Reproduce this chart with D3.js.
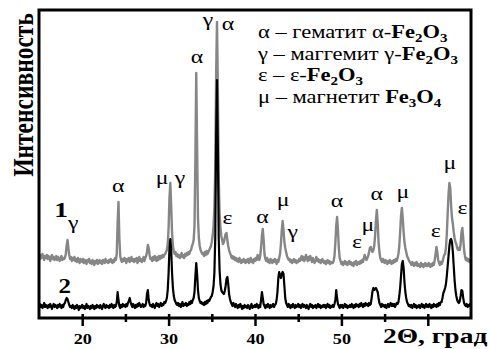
<!DOCTYPE html>
<html>
<head>
<meta charset="utf-8">
<script src="https://cdn.jsdelivr.net/npm/d3@7"></script>
<style>
  body { margin: 0; background: #fff; }
  svg { display: block; }
  text { font-family: "Liberation Serif", serif; }
</style>
</head>
<body>
<svg id="chart" width="489" height="349"></svg>
<script>
// 2θ grid: 15.0 .. 65.0 step 0.1
const thetaStart = 15;
const thetaStep = 0.1;

// sample 1 (grey), intensity a.u., one row per degree
const sample1 = [
  62,59,63,60,64,61,58,62,60,63,
  59,62,60,57,61,63,59,61,58,60,
  62,58,61,59,57,60,62,58,60,59,
  60,64,72,78,70,63,59,61,57,60,
  58,61,57,59,56,60,58,55,59,57,
  56,59,55,58,57,54,58,56,59,55,
  57,54,58,56,53,57,55,58,54,56,
  58,55,57,54,58,56,55,59,56,57,
  55,58,56,59,57,55,58,56,60,58,
  64,95,116,80,62,58,56,59,57,60,
  58,55,59,57,60,56,58,61,57,59,
  56,59,57,60,55,58,61,57,59,56,
  58,61,57,60,62,66,73,70,63,59,
  60,57,61,58,62,59,57,61,58,62,
  59,62,60,63,61,63,64,66,68,74,
  90,120,135,112,85,72,67,64,66,62,
  64,61,63,60,62,65,61,63,60,64,
  62,65,63,66,64,67,68,72,74,78,
  92,160,245,170,100,80,72,68,66,64,
  65,62,66,63,67,64,66,68,70,72,
  76,82,92,110,150,240,296,230,140,105,
  90,82,78,74,76,80,84,85,78,72,
  68,65,63,60,62,59,61,58,60,57,
  59,56,60,57,55,58,56,59,57,55,
  58,56,59,55,57,60,56,58,55,59,
  57,60,58,63,61,58,62,70,82,89,
  78,64,59,57,60,56,58,55,59,57,
  55,58,56,59,57,54,58,56,60,64,
  74,88,97,88,76,70,66,62,60,58,
  59,56,58,55,57,59,56,58,55,57,
  56,59,57,60,62,58,61,57,59,63,
  60,57,61,58,62,59,56,60,57,55,
  58,61,57,59,56,58,55,57,59,56,
  55,57,54,56,58,55,57,54,56,55,
  55,57,62,75,92,101,88,70,60,57,
  54,56,53,55,57,54,56,53,55,57,
  54,56,53,55,52,56,54,57,53,55,
  56,54,57,55,58,56,60,63,60,58,
  60,62,66,70,71,68,66,68,72,82,
  98,108,95,76,66,60,58,56,59,57,
  55,58,56,54,57,55,58,56,54,57,
  55,58,56,59,57,60,64,72,86,102,
  110,100,86,76,70,66,62,60,58,56,
  55,53,56,54,52,55,53,56,52,54,
  53,51,55,52,54,51,53,55,52,54,
  52,55,53,51,54,52,55,53,58,64,
  71,66,58,55,53,56,54,56,60,63,
  64,70,84,104,124,135,130,112,100,94,
  86,80,76,74,70,68,70,68,74,86,
  90,80,68,62,58,60,57,59,56,58,
  56
];

// sample 2 (black)
const sample2 = [
  12,14,11,13,10,12,15,11,13,12,
  10,13,11,14,12,9,12,14,11,13,
  12,10,13,11,14,12,10,13,11,14,
  15,18,20,19,16,13,11,12,10,13,
  11,9,12,10,13,11,8,12,10,11,
  13,10,12,9,11,14,10,12,11,9,
  12,10,13,11,9,12,10,13,11,12,
  10,13,11,9,12,14,11,10,13,11,
  12,10,13,11,14,12,10,13,11,12,
  16,26,18,12,10,13,11,14,12,13,
  11,14,12,15,17,20,16,13,11,14,
  12,10,13,11,14,12,15,13,11,12,
  14,11,13,12,15,24,28,18,14,12,
  13,11,14,12,10,13,15,12,14,11,
  13,15,12,14,13,16,15,17,20,28,
  45,70,79,68,45,30,22,18,16,14,
  13,15,12,14,11,13,16,12,14,13,
  15,12,14,13,16,14,17,15,18,20,
  26,42,55,44,28,20,17,15,16,14,
  15,13,16,14,17,15,18,17,19,21,
  22,26,32,45,80,180,238,170,80,48,
  34,28,26,25,24,27,32,39,41,34,
  24,19,16,14,12,15,13,11,14,12,
  10,13,11,14,12,9,12,10,13,11,
  12,10,13,11,9,12,14,10,12,11,
  13,11,14,12,10,13,11,18,26,20,
  14,12,10,13,11,14,12,10,13,11,
  12,14,11,13,14,18,26,40,46,42,
  40,44,46,44,32,20,15,13,11,14,
  12,10,13,11,14,12,10,13,11,12,
  14,11,13,10,12,14,11,13,12,10,
  13,11,9,12,14,11,13,10,12,11,
  13,10,12,14,11,13,10,12,11,13,
  11,13,10,12,14,11,13,10,12,11,
  13,11,14,18,28,20,14,12,10,13,
  11,13,10,12,14,11,13,10,12,11,
  13,11,14,12,10,13,11,14,12,13,
  11,14,12,15,13,11,14,12,15,13,
  14,12,15,13,14,20,27,30,28,29,
  30,28,26,20,15,13,11,14,12,13,
  11,13,10,12,14,11,13,15,12,14,
  12,14,11,13,15,14,16,22,30,42,
  54,57,50,36,26,20,16,14,12,13,
  11,13,10,12,14,11,13,10,12,11,
  13,10,12,14,11,13,10,12,14,11,
  13,11,14,12,10,13,11,14,12,13,
  11,14,12,15,13,16,16,20,25,27,
  30,34,42,52,62,72,78,79,76,66,
  52,38,28,22,18,16,15,17,22,28,
  27,20,15,13,12,14,11,13,12,14,
  12
];

const xTicks = [20, 30, 40, 50, 60];
const xTickLabels = ['20', '30', '40', '50', ''];   // 60 is hidden under the axis title
const xMinorTicks = [25, 35, 45, 55];

// phase marks: [symbol, 2θ, intensity level]
const peakLabels = [
  ['γ', 18.96, 89], ['α', 24.16, 126], ['μ', 29.25, 134], ['γ', 31.33, 134],
  ['α', 33.29, 255], ['γ', 34.57, 292], ['α', 36.88, 288], ['ε', 36.82, 94],
  ['α', 40.87, 95], ['μ', 43.24, 112], ['γ', 44.36, 80], ['α', 49.48, 111],
  ['ε', 51.79, 70], ['μ', 53.06, 87], ['α', 54.1, 118], ['μ', 57.1, 120],
  ['ε', 60.92, 81], ['μ', 62.54, 149], ['ε', 64.01, 104]
];

const curveLabels = [['1', 17.57, 101], ['2', 17.98, 25]];

const legendRows = [
  ['α – гематит α-', 'Fe2O3'],
  ['γ – маггемит γ-', 'Fe2O3'],
  ['ε – ε-', 'Fe2O3'],
  ['μ – магнетит ', 'Fe3O4']
];

const width = 489, height = 349;
const margin = { top: 10, right: 18, bottom: 31, left: 39 };
const sx = 1.25; // glyphs in the figure are stretched horizontally

const svg = d3.select('#chart');

const x = d3.scaleLinear()
  .domain([15, 65])
  .range([margin.left, width - margin.right]);

const y = d3.scaleLinear()
  .domain([0, 308])
  .range([height - margin.bottom, margin.top]);

const line = d3.line()
  .x((d, i) => x(thetaStart + i * thetaStep))
  .y(d => y(d));

svg.append('path')
  .datum(sample1)
  .attr('fill', 'none')
  .attr('stroke', '#868686')
  .attr('stroke-width', 2.4)
  .attr('stroke-linejoin', 'round')
  .attr('d', line);

svg.append('path')
  .datum(sample2)
  .attr('fill', 'none')
  .attr('stroke', '#000')
  .attr('stroke-width', 2.2)
  .attr('stroke-linejoin', 'round')
  .attr('d', line);

// frame
svg.append('rect')
  .attr('x', x(15))
  .attr('y', y(308))
  .attr('width', x(65) - x(15))
  .attr('height', y(0) - y(308))
  .attr('fill', 'none')
  .attr('stroke', '#000')
  .attr('stroke-width', 3);

// axes
const axisY = y(0);
const gx = svg.append('g')
  .attr('transform', `translate(0,${axisY})`)
  .call(d3.axisBottom(x).tickValues(xTicks).tickSize(8).tickPadding(8)
    .tickFormat((d, i) => xTickLabels[i]));
gx.attr('font-family', null);
gx.select('.domain').remove();
gx.selectAll('.tick line').attr('y1', -4).attr('stroke-width', 2.5);
gx.selectAll('.tick text')
  .style('font-family', '"Liberation Serif", serif')
  .attr('font-weight', 'bold')
  .attr('font-size', 14.5)
  .attr('transform', `scale(${sx},1)`);

const gm = svg.append('g')
  .attr('transform', `translate(0,${axisY})`)
  .call(d3.axisBottom(x).tickValues(xMinorTicks).tickSize(4).tickFormat(''));
gm.select('.domain').remove();
gm.selectAll('.tick text').remove();
gm.selectAll('.tick line').attr('y1', -4).attr('stroke-width', 2.5);

// axis titles
svg.append('text')
  .attr('transform', `translate(383,343) scale(${sx},1)`)
  .attr('font-weight', 'bold')
  .attr('font-size', 22)
  .text('2Θ, град');

svg.append('text')
  .attr('transform', `translate(33,95) rotate(-90) scale(1,${sx})`)
  .attr('text-anchor', 'middle')
  .attr('font-weight', 'bold')
  .attr('font-size', 23.5)
  .text('Интенсивность');

// phase symbols over peaks
svg.append('g').selectAll('text')
  .data(peakLabels)
  .join('text')
    .attr('transform', d => `translate(${x(d[1])},${y(d[2])}) scale(${sx},1)`)
    .attr('text-anchor', 'middle')
    .attr('font-size', 19)
    .text(d => d[0]);

svg.append('g').selectAll('text')
  .data(curveLabels)
  .join('text')
    .attr('transform', d => `translate(${x(d[1])},${y(d[2])}) scale(${sx},1)`)
    .attr('text-anchor', 'middle')
    .attr('font-weight', 'bold')
    .attr('font-size', (d, i) => i === 0 ? 22 : 20)
    .text(d => d[0]);

// legend
const legend = svg.append('g');
legendRows.forEach((row, i) => {
  const t = legend.append('text')
    .attr('transform', `translate(258,${38 + i * 21.7}) scale(${sx},1)`)
    .attr('font-size', 18);
  t.append('tspan').text(row[0]);
  let shifted = false;
  row[1].split('').forEach(ch => {
    const sub = /\d/.test(ch);
    const ts = t.append('tspan').attr('font-weight', 'bold').text(ch);
    if (sub) {
      ts.attr('font-size', 12).attr('dy', 4);
      shifted = true;
    } else if (shifted) {
      ts.attr('dy', -4);
      shifted = false;
    }
  });
});
</script>
</body>
</html>
